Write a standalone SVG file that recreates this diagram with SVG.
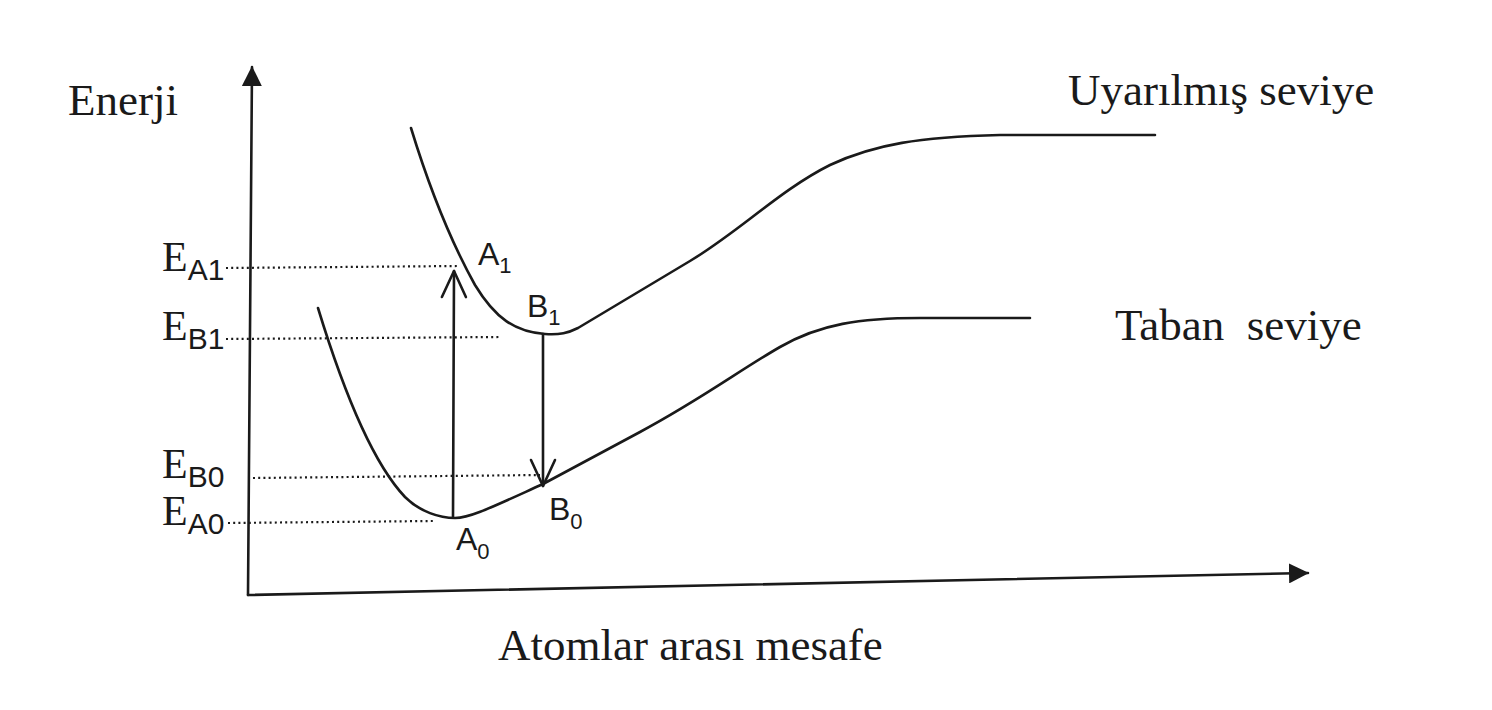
<svg xmlns="http://www.w3.org/2000/svg" width="1492" height="710" viewBox="0 0 1492 710">
<style>
.ln{fill:none;stroke:#1a1a1a;stroke-width:2.6;stroke-linecap:round;stroke-linejoin:round}
.dot{fill:none;stroke:#1a1a1a;stroke-width:2.2;stroke-dasharray:2 3.2}
.ser{font-family:"Liberation Serif","Times New Roman",serif;fill:#1a1a1a}
.sans{font-family:"Liberation Sans",Arial,sans-serif;fill:#1a1a1a}
</style>
<defs>
<marker id="tri" viewBox="0 0 20 20" refX="19" refY="10" markerWidth="20" markerHeight="20" markerUnits="userSpaceOnUse" orient="auto">
<path d="M0,0 L20,10 L0,20 Z" fill="#1a1a1a"/>
</marker>
<marker id="vee" viewBox="0 0 30 30" refX="28" refY="15" markerWidth="30" markerHeight="30" markerUnits="userSpaceOnUse" orient="auto">
<path d="M2,3 L28,15 L2,27" fill="none" stroke="#1a1a1a" stroke-width="2.6" stroke-linecap="round" stroke-linejoin="round"/>
</marker>
</defs>
<rect width="1492" height="710" fill="#ffffff"/>

<g id="axes">
<line class="ln" x1="248" y1="595" x2="252" y2="67" marker-end="url(#tri)"/>
<line class="ln" x1="248" y1="595" x2="1308" y2="573" marker-end="url(#tri)"/>
<text class="ser" x="68" y="115" font-size="45">Enerji</text>
<text class="ser" x="498" y="660" font-size="45">Atomlar arası mesafe</text>
</g>

<g id="curve-excited">
<path class="ln" d="M411,128 C430,190 450,240 475,285 C495,318 515,332 545,334 C560,335 568,333 578,328 L690,261 C740,231 780,190 830,165 C875,144 920,137 1000,135 L1155,135"/>
<text class="ser" x="1068" y="105" font-size="45">Uyarılmış seviye</text>
</g>

<g id="curve-ground">
<path class="ln" d="M318,308 C340,380 370,460 405,497 C420,512 440,518 455,518 C470,518 490,508 543,484 L640,432 C700,400 740,370 780,347 C820,324 860,318 920,318 L1030,318"/>
<text class="ser" x="1115" y="340" font-size="45">Taban&#160;&#160;seviye</text>
</g>

<g id="levels">
<line class="dot" x1="226" y1="268" x2="458" y2="266"/>
<line class="dot" x1="226" y1="339" x2="500" y2="337"/>
<line class="dot" x1="253" y1="478" x2="540" y2="475"/>
<line class="dot" x1="228" y1="523" x2="433" y2="521"/>
</g>

<g id="label-EA1"><text class="ser" x="162" y="271" font-size="42">E<tspan class="sans" font-size="30" dy="9">A1</tspan></text></g>
<g id="label-EB1"><text class="ser" x="162" y="340" font-size="42">E<tspan class="sans" font-size="30" dy="9">B1</tspan></text></g>
<g id="label-EB0"><text class="ser" x="162" y="478" font-size="42">E<tspan class="sans" font-size="30" dy="9">B0</tspan></text></g>
<g id="label-EA0"><text class="ser" x="162" y="525" font-size="42">E<tspan class="sans" font-size="30" dy="9">A0</tspan></text></g>

<g id="point-A1"><text class="sans" x="478" y="265" font-size="32">A<tspan font-size="22" dy="8">1</tspan></text></g>
<g id="point-B1"><text class="sans" x="527" y="317" font-size="32">B<tspan font-size="22" dy="8">1</tspan></text></g>
<g id="point-B0"><text class="sans" x="549" y="520" font-size="32">B<tspan font-size="22" dy="9">0</tspan></text></g>
<g id="point-A0"><text class="sans" x="456" y="550" font-size="32">A<tspan font-size="22" dy="9">0</tspan></text></g>

<g id="connectors">
<line class="ln" x1="453" y1="517" x2="454" y2="271" marker-end="url(#vee)"/>
<line class="ln" x1="543" y1="334" x2="543" y2="486" marker-end="url(#vee)"/>
</g>
</svg>
